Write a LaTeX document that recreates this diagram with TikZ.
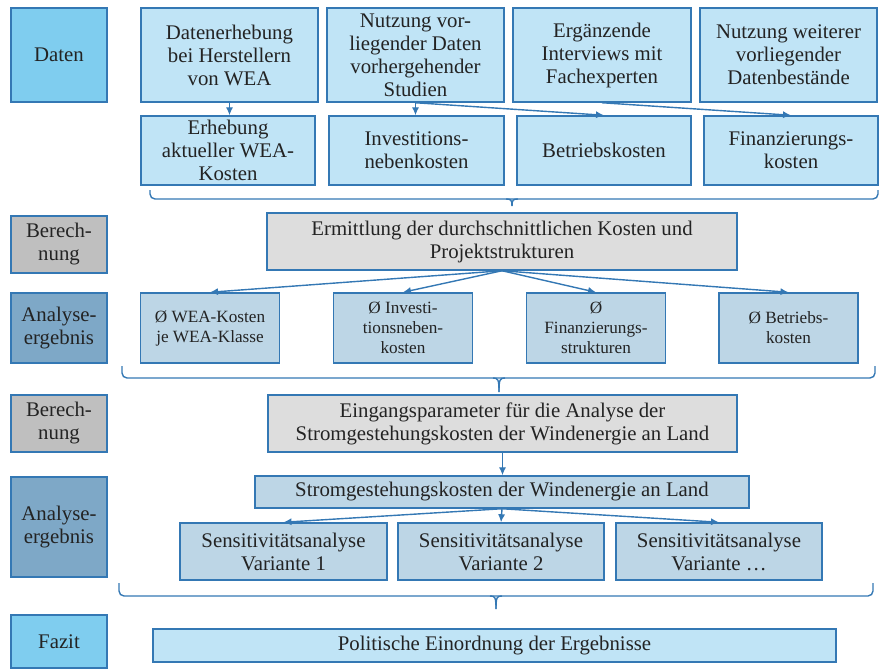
\documentclass[tikz,border=0pt]{standalone}
\usepackage{fontspec}
\setmainfont{Liberation Serif}
\usepackage{tikz}
\usetikzlibrary{arrows.meta}
\definecolor{figframe}{RGB}{52,120,180}
\definecolor{figtext}{RGB}{35,35,35}
\definecolor{figsky}{RGB}{127,205,239}
\definecolor{figpale}{RGB}{192,228,246}
\definecolor{figgrey}{RGB}{191,191,191}
\definecolor{figlgrey}{RGB}{221,221,221}
\definecolor{figsteel}{RGB}{126,168,199}
\definecolor{figlsteel}{RGB}{189,214,230}
\tikzset{
  bx/.style   ={draw=figframe, line width=0.75pt, align=center, inner sep=1pt, text=figtext, font=\fontsize{10.4}{11.5}\selectfont},
  bxs/.style  ={bx, font=\fontsize{8.6}{10}\selectfont},
  lvl/.style  ={bx, minimum width=48pt},
  ptr/.style  ={draw=figframe, line width=0.7pt, -{Latex[length=4pt,width=3.6pt]}},
  brc/.style  ={draw=figframe, line width=0.7pt, rounded corners=2.5pt},
}

\begin{document}
\begin{tikzpicture}[x=0.5pt,y=-0.5pt]
  \useasboundingbox (0,0) rectangle (879,669);
  % left column
  \node[lvl,fill=figsky,minimum height=47pt] (lvdat) at (59,55) {Daten};
  \node[lvl,fill=figgrey,minimum height=28.5pt] (lvcalc1) at (59,244.5) {Berech-\\nung};
  \node[lvl,fill=figsteel,minimum height=35pt] (lvres1) at (59,328) {Analyse-\\ergebnis};
  \node[lvl,fill=figgrey,minimum height=28.5pt] (lvcalc2) at (59,423.5) {Berech-\\nung};
  \node[lvl,fill=figsteel,minimum height=50pt] (lvres2) at (59,527) {Analyse-\\ergebnis};
  \node[lvl,fill=figsky,minimum height=26.5pt] (lvfaz) at (59,641.5) {Fazit};
  % data sources
  \node[bx,fill=figpale,minimum width=88.5pt,minimum height=47pt] (dat1) at (229.5,55) {Datenerhebung\\bei Herstellern\\von WEA};
  \node[bx,fill=figpale,minimum width=88.5pt,minimum height=47pt] (dat2) at (415.5,55) {Nutzung vor-\\liegender Daten\\vorhergehender\\Studien};
  \node[bx,fill=figpale,minimum width=89pt,minimum height=47pt] (dat3) at (602,55) {Ergänzende\\Interviews mit\\Fachexperten};
  \node[bx,fill=figpale,minimum width=88.5pt,minimum height=47pt] (dat4) at (788.5,55) {Nutzung weiterer\\vorliegender\\Datenbestände};
  \node[bx,fill=figpale,minimum width=87pt,minimum height=34.5pt] (kos1) at (228,150.5) {Erhebung\\aktueller WEA-\\Kosten};
  \node[bx,fill=figpale,minimum width=87.5pt,minimum height=34.5pt] (kos2) at (416.5,150.5) {Investitions-\\nebenkosten};
  \node[bx,fill=figpale,minimum width=87pt,minimum height=34.5pt] (kos3) at (604,150.5) {Betriebskosten};
  \node[bx,fill=figpale,minimum width=87pt,minimum height=34.5pt] (kos4) at (791,150.5) {Finanzierungs-\\kosten};
  \draw[ptr] (dat1.south) -- (dat1.south |- kos1.north);
  \draw[ptr] (dat2.south) -- (dat2.south |- kos2.north);
  \draw[ptr] (dat2.south) -- (kos3.north);
  \draw[ptr] (dat3.south) -- (kos4.north);
  \draw[brc] (150,190) -- (150,199) -- (878,199) -- (878,190);
  \draw[brc] (506,199) .. controls (511,199) and (512,200) .. (512,206);
  \draw[brc] (518,199) .. controls (513,199) and (512,200) .. (512,206);
  % first calculation
  \node[bx,fill=figlgrey,minimum width=235pt,minimum height=28.5pt] (calc1) at (502,241.5) {Ermittlung der durchschnittlichen Kosten und\\Projektstrukturen};
  \node[bxs,fill=figlsteel,minimum width=69.5pt,minimum height=35pt] (avg1) at (210,328) {Ø WEA-Kosten\\je WEA-Klasse};
  \node[bxs,fill=figlsteel,minimum width=69.5pt,minimum height=35pt] (avg2) at (403,328) {Ø Investi-\\tionsneben-\\kosten};
  \node[bxs,fill=figlsteel,minimum width=69.5pt,minimum height=35pt] (avg3) at (596,328) {Ø\\Finanzierungs-\\strukturen};
  \node[bxs,fill=figlsteel,minimum width=69.5pt,minimum height=35pt] (avg4) at (788.5,328) {Ø Betriebs-\\kosten};
  \foreach \i in {1,...,4}
    \draw[ptr] (calc1.south) -- (avg\i.north);
  \draw[brc] (122,366) -- (122,378) -- (875,378) -- (875,366);
  \draw[brc] (493,378) .. controls (498,378) and (499,379) .. (499,392);
  \draw[brc] (505,378) .. controls (500,378) and (499,379) .. (499,392);
  % second calculation
  \node[bx,fill=figlgrey,minimum width=234.5pt,minimum height=28.5pt] (calc2) at (502.5,423.5) {Eingangsparameter für die Analyse der\\Stromgestehungskosten der Windenergie an Land};
  \node[bx,fill=figlsteel,minimum width=247pt,minimum height=16pt] (lcoe) at (502,492) {Stromgestehungskosten der Windenergie an Land};
  \draw[ptr] (calc2.south) -- (calc2.south |- lcoe.north);
  \node[bx,fill=figlsteel,minimum width=103.5pt,minimum height=28.5pt] (var1) at (283.5,551.5) {Sensitivitätsanalyse\\Variante 1};
  \node[bx,fill=figlsteel,minimum width=103pt,minimum height=28.5pt] (var2) at (501,551.5) {Sensitivitätsanalyse\\Variante 2};
  \node[bx,fill=figlsteel,minimum width=103pt,minimum height=28.5pt] (var3) at (719,551.5) {Sensitivitätsanalyse\\Variante \dots};
  \foreach \i in {1,2,3}
    \draw[ptr] (lcoe.south) -- (var\i.north);
  \draw[brc] (119,583) -- (119,596) -- (873,596) -- (873,583);
  \draw[brc] (490,596) .. controls (495,596) and (496,597) .. (496,609);
  \draw[brc] (502,596) .. controls (497,596) and (496,597) .. (496,609);
  % conclusion
  \node[bx,fill=figpale,minimum width=341.5pt,minimum height=16.5pt] (faz) at (494.5,645.5) {Politische Einordnung der Ergebnisse};
\end{tikzpicture}
\end{document}
